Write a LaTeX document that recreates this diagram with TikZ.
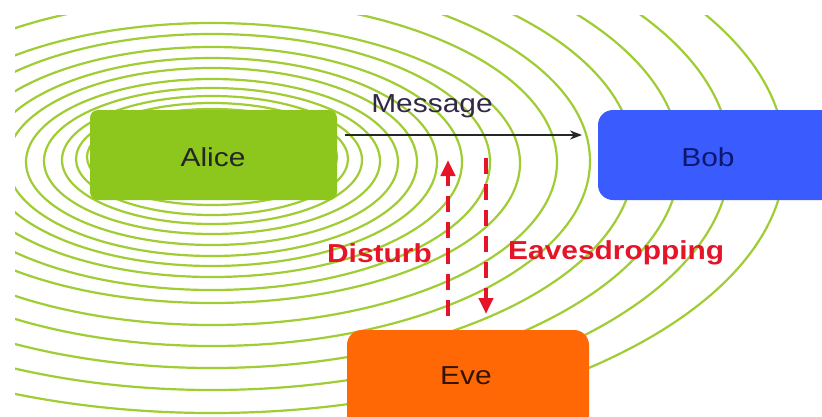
\documentclass[tikz,border=0pt]{standalone}
\usepackage{fontspec}
\setmainfont{Liberation Sans}[FakeStretch=1.15]
\usetikzlibrary{arrows.meta,calc}

\definecolor{ripple}{RGB}{160,204,52}
\definecolor{alicegreen}{RGB}{141,198,28}
\definecolor{bobblue}{RGB}{58,92,255}
\definecolor{bobtext}{RGB}{12,24,110}
\definecolor{eveorange}{RGB}{255,104,4}
\definecolor{evetext}{RGB}{50,20,0}
\definecolor{alerted}{RGB}{230,20,40}
\definecolor{msgtext}{RGB}{50,40,70}

\tikzset{
  party/.style={inner sep=0pt, font=\fontsize{26}{30}\selectfont},
  wave/.style={draw=ripple, line width=2.2pt},
  redlabel/.style={text=alerted, font=\fontsize{26}{30}\selectfont\bfseries, inner sep=0pt},
  attack/.style={draw=alerted, line width=4pt, dash pattern=on 16pt off 10pt,
    -{Triangle[length=16pt,width=14pt]}},
}

\begin{document}
\begin{tikzpicture}[x=1pt,y=-1pt]
  \useasboundingbox (0,0) rectangle (822,416);
  \fill[white] (0,0) rectangle (822,416);

  % ripples spreading out from Alice: {centre y, x radius, y radius}
  \begin{scope}
    \clip (15,15) rectangle (822,416);
    \foreach \cy/\rx/\ry in {157/125/48, 159/136/56, 160/150/64, 161/168/73,
        162/186/83, 162/205/94, 162/225/104, 162/250/115, 162/278/128,
        163/308/140, 162/345/163, 161/378/185, 160/422/208, 159/468/231,
        158/518/255, 157/573/280}
      \draw[wave] (212,\cy) ellipse [x radius=\rx, y radius=\ry];
  \end{scope}

  % the three parties
  \fill[alicegreen, rounded corners=8pt] (90,110) rectangle (337,200);
  \node[party, text=black!85] (Alice) at (213,157) {Alice};
  \fill[bobblue, rounded corners=15pt] (598,110) rectangle (836,200);
  \node[party, text=bobtext] (Bob) at (708,157) {Bob};
  \fill[eveorange, rounded corners=15pt] (347,330) rectangle (589,440);
  \node[party, text=evetext] (Eve) at (466,376) {Eve};

  % message channel
  \coordinate (msgfrom) at (345,135);
  \coordinate (msgto) at (582,135);
  \draw[black!85, line width=2pt, -{Stealth[length=12pt,width=9pt]}] (msgfrom) -- (msgto);
  \node[party, text=msgtext] (msg) at (432,106) {Message};

  % Eve's interference
  \coordinate (disturbfrom) at (448,316);
  \coordinate (disturbto) at (448,160);
  \coordinate (eavesfrom) at (486,158);
  \coordinate (eavesto) at (486,314);
  \draw[attack] (disturbfrom) -- (disturbto);
  \draw[attack] (eavesfrom) -- (eavesto);
  \node[redlabel, anchor=east] (disturb) at (432,253) {Disturb};
  \node[redlabel, anchor=west] (eaves) at (508,253) {Eavesdropping};
\end{tikzpicture}
\end{document}
